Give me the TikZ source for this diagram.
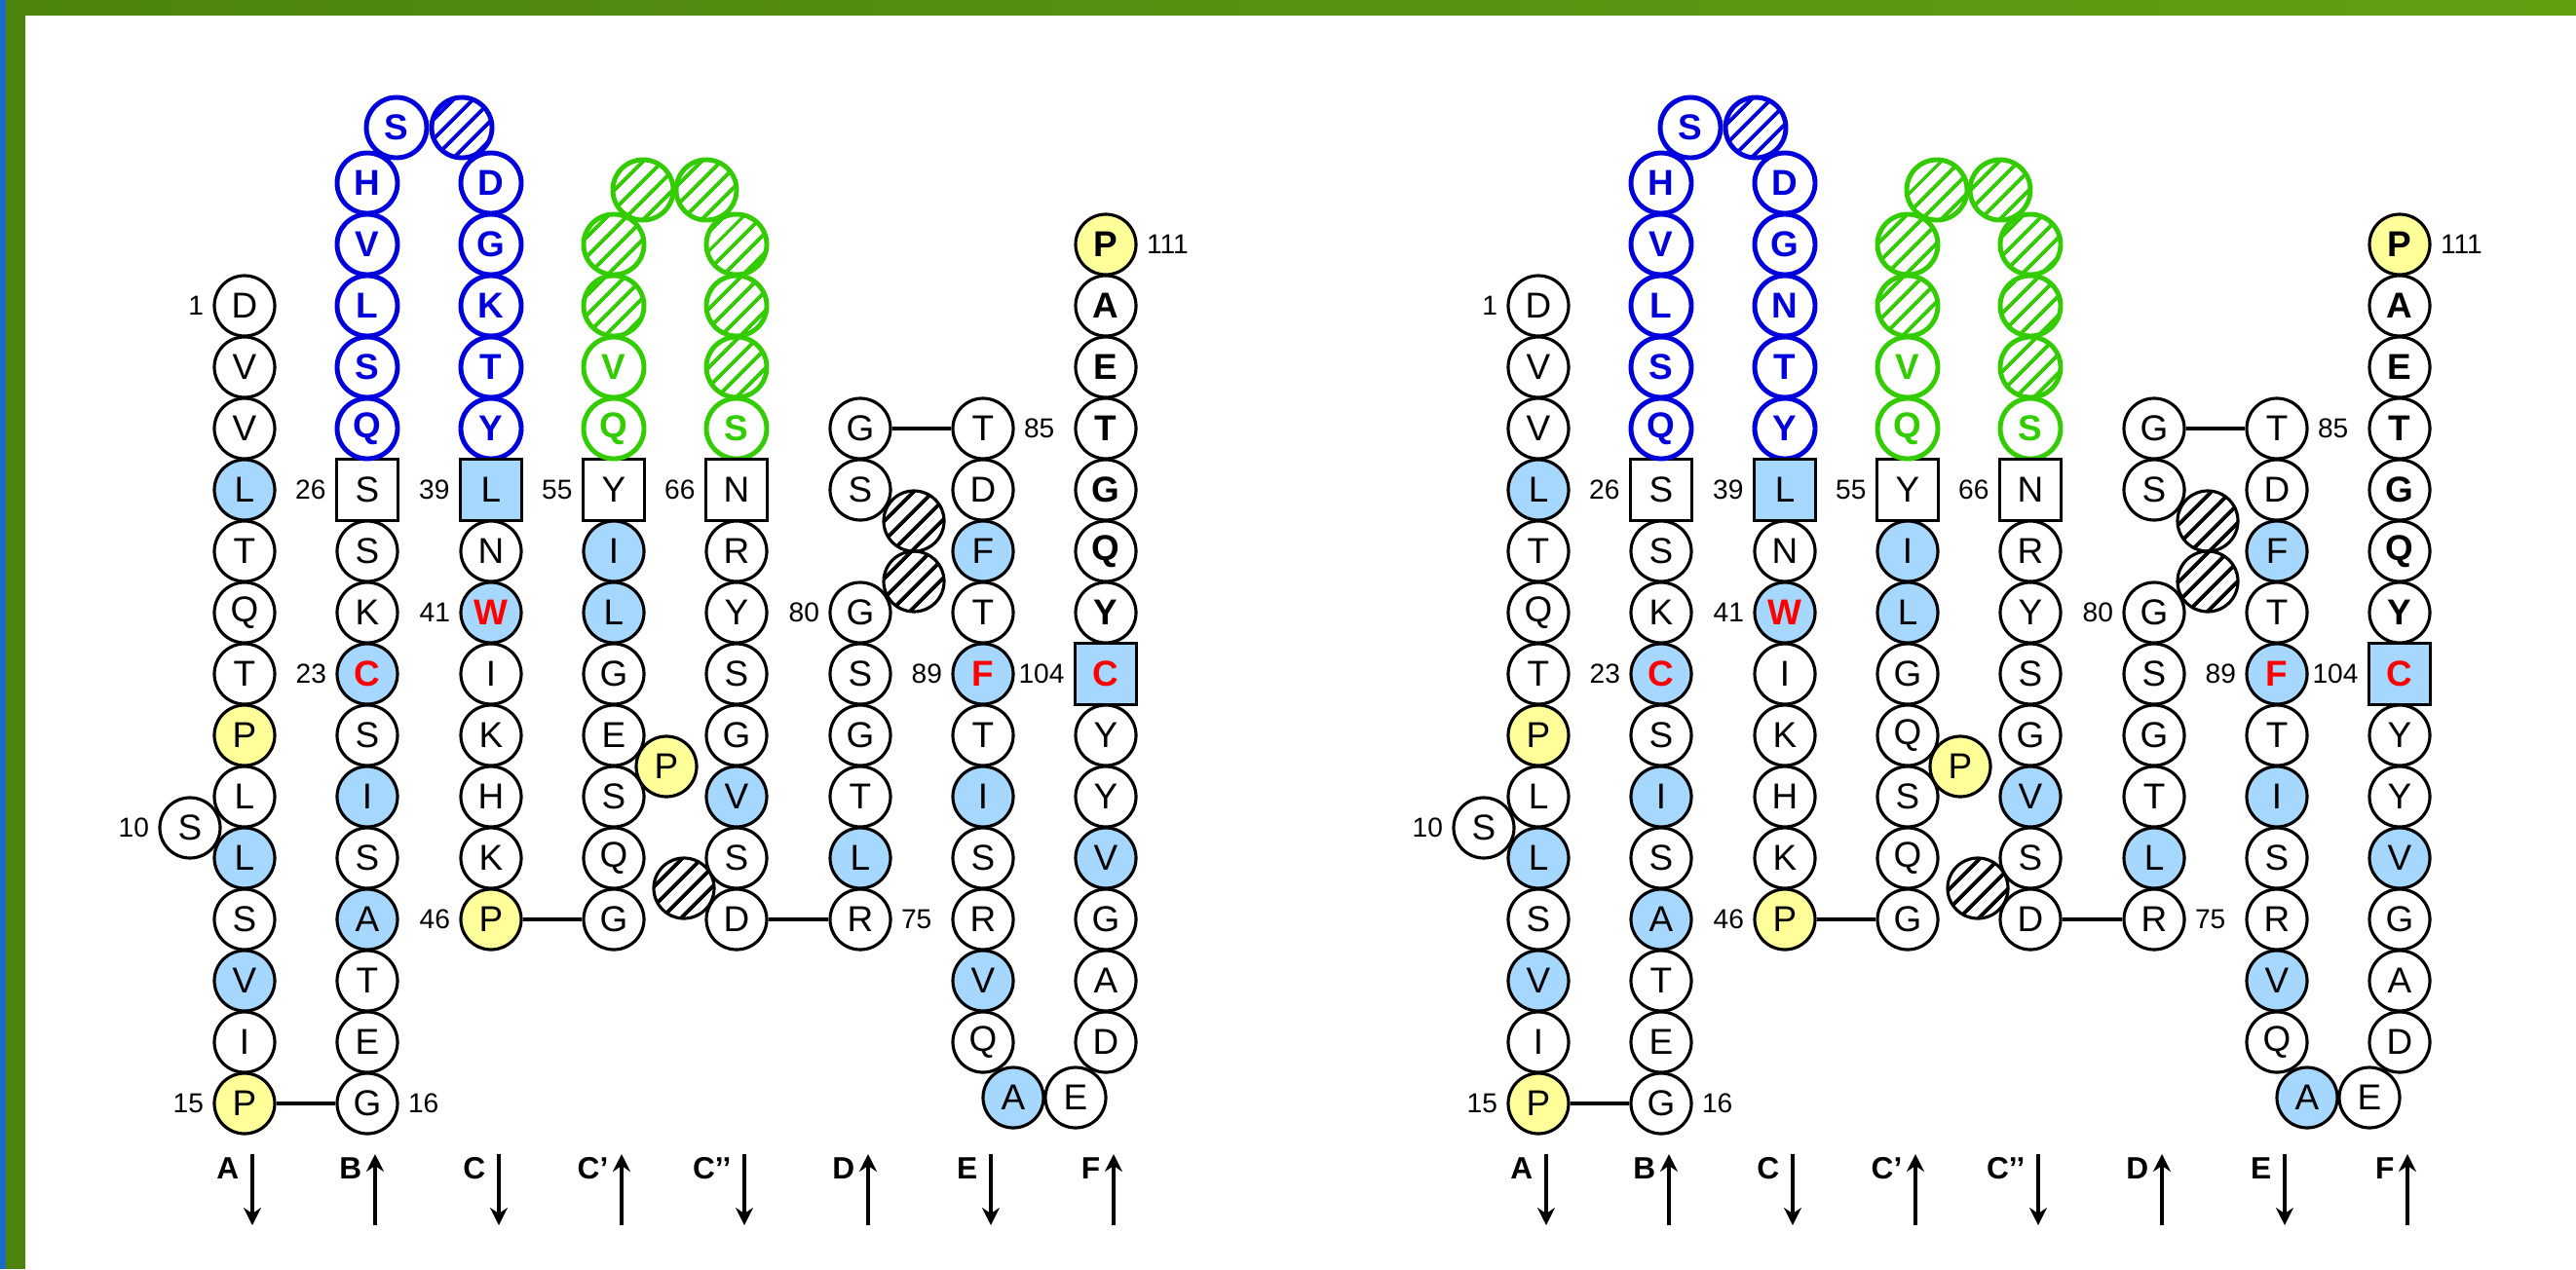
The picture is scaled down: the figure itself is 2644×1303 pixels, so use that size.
\documentclass[tikz,border=0pt]{standalone}
\usepackage{fontspec}
\setmainfont{Liberation Sans}
\usepackage{tikz}
\usetikzlibrary{
  arrows.meta,
  positioning,
  patterns.meta
}
\definecolor{igHyd}{HTML}{A6D8FF}
\definecolor{igPro}{HTML}{FFFF99}
\definecolor{igCdrB}{HTML}{0000DD}
\definecolor{igCdrG}{HTML}{33CC00}
\definecolor{igRed}{HTML}{FF0000}
\definecolor{igFrame}{HTML}{4C840E}
\definecolor{igFrameR}{HTML}{62A012}
\definecolor{igStrip}{HTML}{1A6CC8}
\tikzset{
  aa/.style={
    circle, draw, line width=0.9pt, fill=white, minimum size=6.2mm,
    inner sep=0pt, font=\fontsize{10.5}{12}\selectfont
  },
  aabold/.style={aa, font=\fontsize{10.5}{12}\selectfont\bfseries},
  aahyd/.style={aa, fill=igHyd},
  aapro/.style={aa, fill=igPro},
  aaprobold/.style={aabold, fill=igPro},
  aacys/.style={aabold, fill=igHyd, text=igRed},
  aabox/.style={aa, rectangle, minimum size=6.3mm},
  aaboxhyd/.style={aabox, fill=igHyd},
  aaboxcys/.style={aabox, fill=igHyd, text=igRed, font=\fontsize{10.5}{12}\selectfont\bfseries},
  aablue/.style={aabold, draw=igCdrB, text=igCdrB, line width=1.4pt},
  aagreen/.style={aabold, draw=igCdrG, text=igCdrG, line width=1.4pt},
  aagap/.style={aa, fill=none, pattern={Lines[angle=45, distance=4pt, line width=1.1pt]}},
  aagapblue/.style={aagap, draw=igCdrB, pattern color=igCdrB, line width=1.4pt},
  aagapgreen/.style={aagap, draw=igCdrG, pattern color=igCdrG, line width=1.4pt},
  num/.style={font=\fontsize{8}{9}\selectfont, inner sep=0.5pt},
  strand/.style={font=\fontsize{9}{10}\selectfont\bfseries, inner sep=0pt, anchor=base east},
  link/.style={line width=0.9pt},
  arrdown/.style={-{Stealth[length=1.8mm, width=1.8mm, inset=0.6mm]}, line width=1.1pt},
  arrup/.style={{Stealth[length=1.8mm, width=1.8mm, inset=0.6mm]}-, line width=1.1pt}
}

\begin{document}
\begin{tikzpicture}[x=0.1mm, y=-0.1mm]
  \useasboundingbox (0,0) rectangle (2644,1303);
  % frame
  \fill[white] (0,0) rectangle (2644,1303);
  \shade[left color=igFrame, right color=igFrameR] (0,0) rectangle (2644,15);
  \fill[igFrame] (6,0) rectangle (26,1303);
  \fill[igStrip] (0,0) rectangle (6,1303);

  \foreach \pn/\ox/\rK/\rE in {L/0/K/E, R/1328/N/Q}{
  \begin{scope}[shift={(\ox,0)}]
    % residues: number/x/y/letter/style
    \foreach \n/\x/\y/\aa/\s in {
      1/251/314/D/aa, 2/251/377/V/aa, 3/251/440/V/aa, 4/251/503/L/aahyd,
      5/251/566/T/aa, 6/251/629/Q/aa, 7/251/692/T/aa, 8/251/755/P/aapro,
      9/251/818/L/aa, 10/195/850/S/aa, 11/251/881/L/aahyd, 12/251/944/S/aa,
      13/251/1007/V/aahyd, 14/251/1070/I/aa, 15/251/1133/P/aapro,
      16/377/1133/G/aa, 17/377/1070/E/aa, 18/377/1007/T/aa, 19/377/944/A/aahyd,
      20/377/881/S/aa, 21/377/818/I/aahyd, 22/377/755/S/aa, 23/377/692/C/aacys,
      24/377/629/K/aa, 25/377/566/S/aa, 26/377/503/S/aabox,
      27/377/440/Q/aablue, 28/377/377/S/aablue, 29/377/314/L/aablue,
      30/377/251/V/aablue, 31/377/188/H/aablue, 32/407/131/S/aablue,
      33/474/131//aagapblue,
      34/504/188/D/aablue, 35/504/251/G/aablue, 36/504/314/\rK/aablue,
      37/504/377/T/aablue, 38/504/440/Y/aablue, 39/504/503/L/aaboxhyd,
      40/504/566/N/aa, 41/504/629/W/aacys, 42/504/692/I/aa, 43/504/755/K/aa,
      44/504/818/H/aa, 45/504/881/K/aa, 46/504/944/P/aapro,
      47/630/944/G/aa, 48/630/881/Q/aa, 49/630/818/S/aa, 50/684/787/P/aapro,
      51/630/755/\rE/aa, 52/630/692/G/aa, 53/630/629/L/aahyd, 54/630/566/I/aahyd,
      55/630/503/Y/aabox, 56/630/440/Q/aagreen, 57/630/377/V/aagreen,
      58/630/314//aagapgreen, 59/630/251//aagapgreen,
      60/660/195//aagapgreen, 61/725/195//aagapgreen,
      62/756/251//aagapgreen, 63/756/314//aagapgreen, 64/756/377//aagapgreen,
      65/756/440/S/aagreen, 66/756/503/N/aabox,
      67/756/566/R/aa, 68/756/629/Y/aa, 69/756/692/S/aa, 70/756/755/G/aa,
      71/756/818/V/aahyd, 72/756/881/S/aa, 73/702/912//aagap, 74/756/944/D/aa,
      75/883/944/R/aa, 76/883/881/L/aahyd, 77/883/818/T/aa, 78/883/755/G/aa,
      79/883/692/S/aa, 80/883/629/G/aa, 81/938/597//aagap, 82/938/535//aagap,
      83/883/503/S/aa, 84/883/440/G/aa,
      85/1009/440/T/aa, 86/1009/503/D/aa, 87/1009/566/F/aahyd, 88/1009/629/T/aa,
      89/1009/692/F/aacys, 90/1009/755/T/aa, 91/1009/818/I/aahyd, 92/1009/881/S/aa,
      93/1009/944/R/aa, 94/1009/1007/V/aahyd, 95/1009/1070/Q/aa,
      96/1040/1127/A/aahyd, 97/1104/1127/E/aa,
      98/1135/1070/D/aa, 99/1135/1007/A/aa, 100/1135/944/G/aa, 101/1135/881/V/aahyd,
      102/1135/818/Y/aa, 103/1135/755/Y/aa, 104/1135/692/C/aaboxcys,
      105/1135/629/Y/aabold, 106/1135/566/Q/aabold, 107/1135/503/G/aabold,
      108/1135/440/T/aabold, 109/1135/377/E/aabold, 110/1135/314/A/aabold,
      111/1135/251/P/aaprobold}{
      \node[\s] (\pn-\n) at (\x,\y) {\aa};
    }
    \draw[link] (\pn-15) -- (\pn-16);
    \draw[link] (\pn-46) -- (\pn-47);
    \draw[link] (\pn-74) -- (\pn-75);
    \draw[link] (\pn-84) -- (\pn-85);
    % residue numbers
    \foreach \n/\side in {1/left, 10/left, 15/left, 16/right, 23/left, 26/left,
      39/left, 41/left, 46/left, 55/left, 66/left, 75/right, 80/left,
      85/right, 89/left, 104/left, 111/right}{
      \node[num, \side=2pt of \pn-\n] (\pn-n\n) {\n};
    }
    % strands
    \foreach \k/\lab/\x/\dir in {1/A/259/arrdown, 2/B/385/arrup, 3/C/512/arrdown,
      4/C'/638/arrup, 5/C'{}'/764/arrdown, 6/D/891/arrup, 7/E/1017/arrdown,
      8/F/1143/arrup}{
      \coordinate (\pn-st\k) at (\x,1185);
      \coordinate (\pn-sb\k) at (\x,1258);
      \node[strand] (\pn-sl\k) at (\x-13,1210) {\lab};
      \draw[\dir] (\pn-st\k) -- (\pn-sb\k);
    }
  \end{scope}
  }
\end{tikzpicture}
\end{document}
